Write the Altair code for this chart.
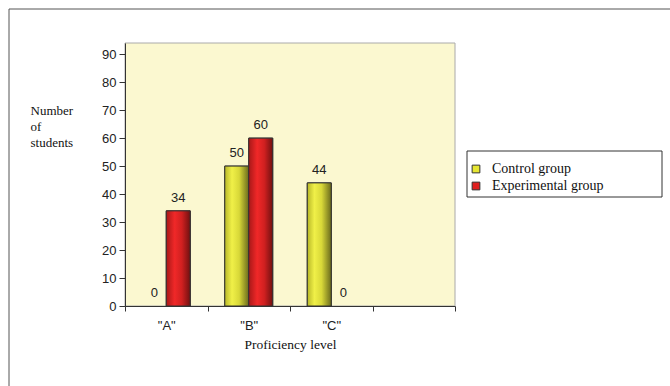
import altair as alt
import pandas as pd

categories = ['"A"', '"B"', '"C"']
slots = ['"A"', '"B"', '"C"', 'D']
groups = ["Control group", "Experimental group"]
control = [0, 50, 44]
experimental = [34, 60, 0]
y_ticks = [0, 10, 20, 30, 40, 50, 60, 70, 80, 90]

rows = []
for c, v in zip(categories, control):
    rows.append({"level": c, "group": groups[0], "value": v})
for c, v in zip(categories, experimental):
    rows.append({"level": c, "group": groups[1], "value": v})
df = pd.DataFrame(rows)

W, H = 330, 263

x_enc = alt.X("level:N", scale=alt.Scale(domain=slots, paddingInner=0, paddingOuter=0),
              axis=alt.Axis(title="Proficiency level", tickBand="extent", zindex=1,
                            labelExpr="datum.value == 'D' ? '' : datum.value",
                            labelAngle=0, labelFont="Liberation Sans", labelFontSize=13,
                            labelColor="#222", labelPadding=8, tickSize=5,
                            domainColor="#333", tickColor="#333",
                            titleFont="Liberation Serif", titleFontWeight="normal",
                            titleFontSize=13.5, titleColor="#111", titlePadding=5))
xo = alt.XOffset("group:N", scale=alt.Scale(domain=groups, paddingInner=0, paddingOuter=0.72))
y_enc = alt.Y("value:Q", scale=alt.Scale(domain=[0, 94], nice=False),
              axis=alt.Axis(values=y_ticks, grid=False, tickSize=6, zindex=1,
                            labelFont="Liberation Sans", labelFontSize=13, labelColor="#222",
                            domainColor="#333", tickColor="#333", labelPadding=3,
                            title=["Number", "of", "students"], titleAngle=0,
                            titleAlign="left", titleBaseline="top",
                            titleX=-95, titleY=61, titleFont="Liberation Serif",
                            titleFontWeight="normal", titleFontSize=13, titleColor="#111",
                            titleLineHeight=16))

base = alt.Chart(df)

plot_bg = alt.Chart(pd.DataFrame({"a": [0]})).mark_rect(
    fill="#FBF8D0", stroke="#AAAAAA", strokeWidth=1).encode(
    x=alt.value(0), x2=alt.value(W), y=alt.value(0), y2=alt.value(H))

flat = base.transform_filter(alt.datum.value > 0).mark_bar(stroke="#333", strokeWidth=1).encode(
    x=x_enc, xOffset=xo, y=y_enc,
    color=alt.Color("group:N", scale=alt.Scale(domain=groups, range=["#E6E632", "#E02020"]),
                    legend=alt.Legend(title=None, orient="none", legendX=344, legendY=119,
                                      padding=0, zindex=1,
                                      symbolType="square", symbolSize=60,
                                      symbolStrokeColor="#333", symbolStrokeWidth=1,
                                      labelFont="Liberation Serif", labelFontSize=14,
                                      labelColor="#111", rowPadding=3, labelOffset=9,
                                      labelLimit=220)),
)

yellow_grad = alt.Gradient(gradient="linear", x1=0, x2=1, y1=0, y2=0, stops=[
    alt.GradientStop(color="#B8B828", offset=0),
    alt.GradientStop(color="#F0F048", offset=0.3),
    alt.GradientStop(color="#D8D838", offset=0.6),
    alt.GradientStop(color="#6A6A1C", offset=1)])
red_grad = alt.Gradient(gradient="linear", x1=0, x2=1, y1=0, y2=0, stops=[
    alt.GradientStop(color="#A81818", offset=0),
    alt.GradientStop(color="#F02828", offset=0.35),
    alt.GradientStop(color="#D02020", offset=0.65),
    alt.GradientStop(color="#701010", offset=1)])

ybars = base.transform_filter((alt.datum.group == groups[0]) & (alt.datum.value > 0)).mark_bar(
    fill=yellow_grad, stroke="#333", strokeWidth=1).encode(x=x_enc, xOffset=xo, y=y_enc)
rbars = base.transform_filter((alt.datum.group == groups[1]) & (alt.datum.value > 0)).mark_bar(
    fill=red_grad, stroke="#333", strokeWidth=1).encode(x=x_enc, xOffset=xo, y=y_enc)

labels = base.mark_text(dy=-13, font="Liberation Sans", fontSize=13, color="#222").encode(
    x=x_enc, xOffset=xo, y=y_enc, text="value:Q")

border = alt.Chart(pd.DataFrame({"a": [0]})).mark_rect(
    fill="white", stroke="#555", strokeWidth=1, clip=False).encode(
    x=alt.value(-116), x2=alt.value(560), y=alt.value(-34), y2=alt.value(400))

legend_box = alt.Chart(pd.DataFrame({"a": [0]})).mark_rect(
    fill="white", stroke="#333", strokeWidth=1, clip=False).encode(
    x=alt.value(342), x2=alt.value(537), y=alt.value(108), y2=alt.value(154))

chart = alt.layer(border, plot_bg, legend_box, flat, ybars, rbars, labels).properties(
    width=W, height=H,
    autosize=alt.AutoSizeParams(type="none"),
    padding={"left": 125, "top": 43, "right": 215, "bottom": 80},
).configure_view(stroke=None).configure(background="white")

chart.save("out.html", embed_options={"renderer": "svg", "actions": False})
